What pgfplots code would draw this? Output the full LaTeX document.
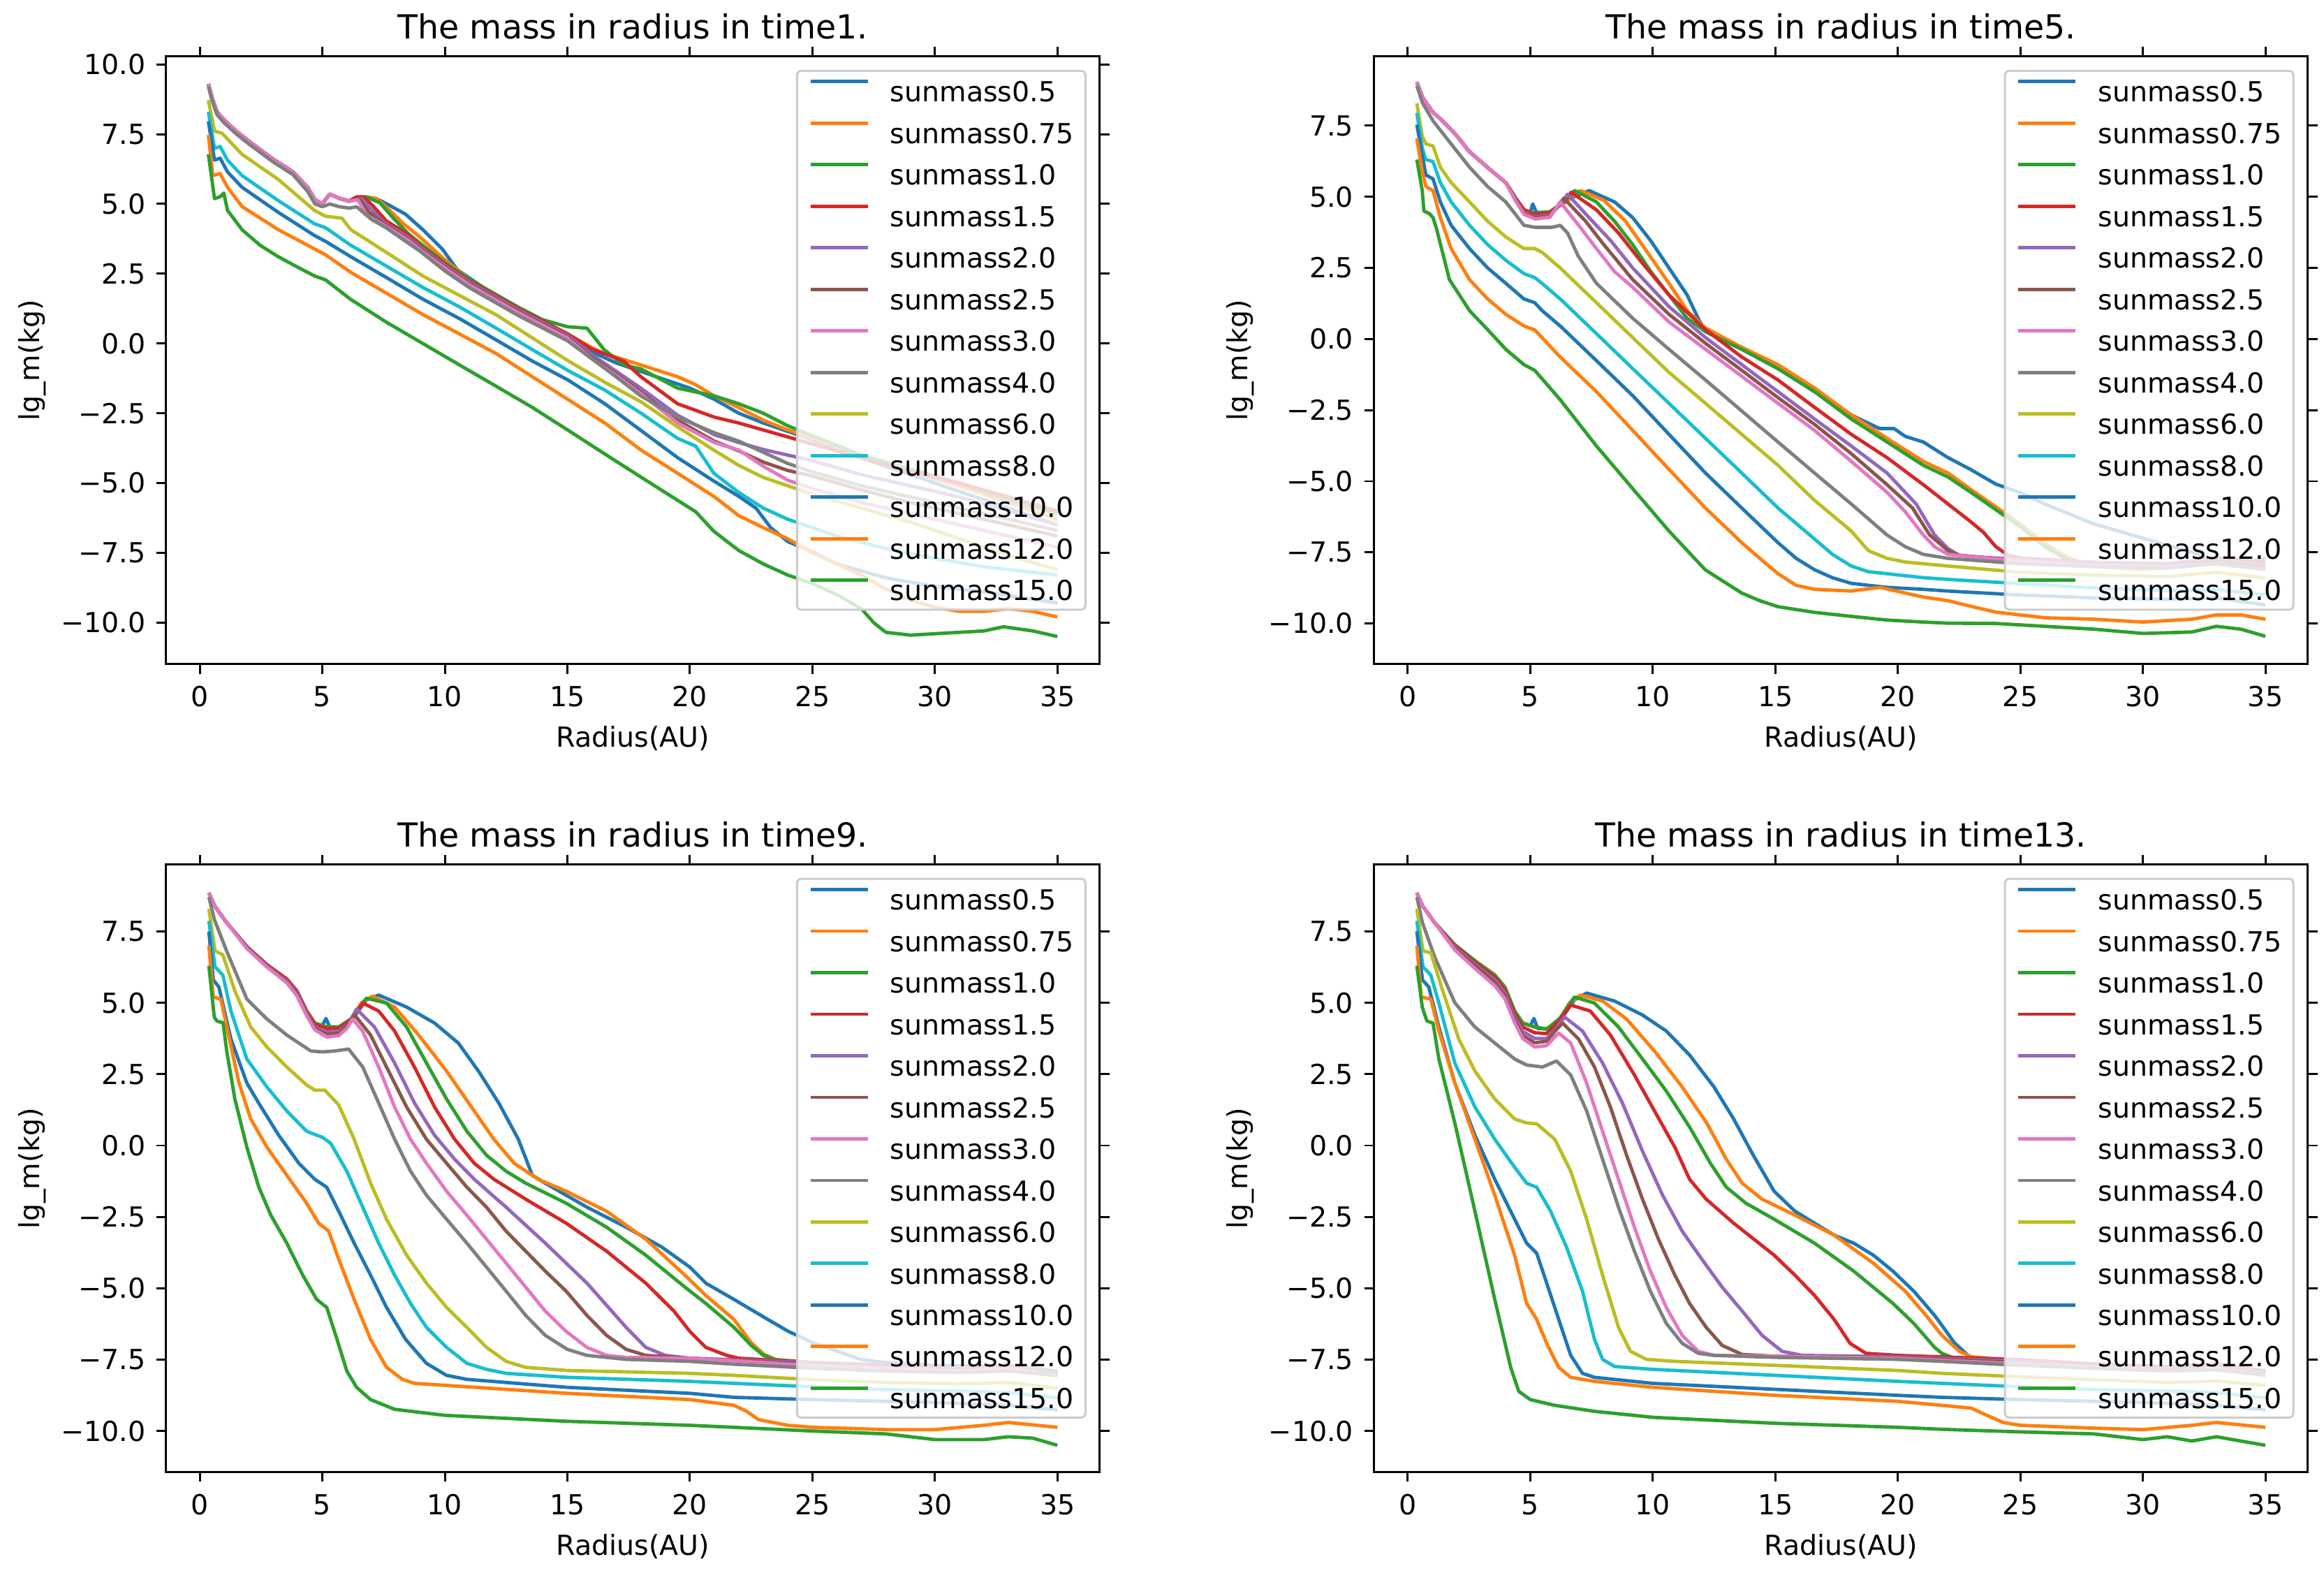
\documentclass[border=0pt]{standalone}
\usepackage{fontspec}
\setmainfont{DejaVu Sans}
\usepackage{pgfplots}
\pgfplotsset{compat=1.18}
\definecolor{c0}{HTML}{1F77B4}
\definecolor{c1}{HTML}{FF7F0E}
\definecolor{c2}{HTML}{2CA02C}
\definecolor{c3}{HTML}{D62728}
\definecolor{c4}{HTML}{9467BD}
\definecolor{c5}{HTML}{8C564B}
\definecolor{c6}{HTML}{E377C2}
\definecolor{c7}{HTML}{7F7F7F}
\definecolor{c8}{HTML}{BCBD22}
\definecolor{c9}{HTML}{17BECF}
\pgfplotsset{
  panel/.style={
    scale only axis, width=126mm, height=82mm,
    xmin=-1.38, xmax=36.73,
    xtick={0,5,10,15,20,25,30,35},
    xticklabels={0,5,10,15,20,25,30,35},
    tick align=outside, major tick length=3.7pt,
    every tick/.style={black, line width=0.8pt},
    axis line style={line width=0.8pt},
    tick label style={font=\fontsize{10.6}{12}\selectfont},
    label style={font=\fontsize{10.6}{12}\selectfont},
    title style={font=\fontsize{12.7}{15}\selectfont, at={(0.5,1)}, anchor=center, yshift=1.9mm},
    xlabel={Radius(AU)}, ylabel={lg\_m(kg)},
    xlabel style={at={(0.5,0)}, anchor=center, yshift=-10mm},
    ylabel style={at={(-0.1429,0.5)}, anchor=center},
    xticklabel style={anchor=center, yshift=-3.1mm},
    yticklabel style={anchor=east, inner sep=0pt, xshift=-1.4mm},
    no markers,
    every axis plot/.append style={line width=1.3pt, line join=round},
    legend cell align=left,
    legend style={at={(0.9857,0.978)}, anchor=north east, draw=black!20, fill=white,
      fill opacity=0.8, text opacity=1, draw opacity=1, rounded corners=1.5pt, line width=0.8pt,
      font=\fontsize{10.6}{12}\selectfont, inner xsep=4.5pt, inner ysep=3.5pt,
      row sep=7.5pt, nodes={inner sep=0pt, text height=7.8pt, text depth=0pt}},
    legend image code/.code={\draw[##1, line width=1.3pt] (0pt,3.9pt) -- (22pt,3.9pt); \path (30pt,3.9pt);},
  },
  ticksA/.style={ytick={-10,-7.5,-5,-2.5,0,2.5,5,7.5,10},
    yticklabels={−10.0,−7.5,−5.0,−2.5,0.0,2.5,5.0,7.5,10.0}},
  ticksB/.style={ytick={-10,-7.5,-5,-2.5,0,2.5,5,7.5},
    yticklabels={−10.0,−7.5,−5.0,−2.5,0.0,2.5,5.0,7.5}},
}
\newcommand{\leg}{\legend{sunmass0.5,sunmass0.75,sunmass1.0,sunmass1.5,sunmass2.0,sunmass2.5,sunmass3.0,sunmass4.0,sunmass6.0,sunmass8.0,sunmass10.0,sunmass12.0,sunmass15.0}}
\begin{document}
\begin{tikzpicture}
\useasboundingbox (0,0) rectangle (313.6mm,212.2mm);
% ---------------- Panel 1: time1 ----------------
\begin{axis}[panel, ticksA, at={(22.4mm,122.6mm)}, anchor=south west,
  ymin=-11.49, ymax=10.29, title={The mass in radius in time1.}]
\addplot[c0] coordinates {(0.35,9.3) (0.5,8.8) (0.7,8.3) (1,8.0) (1.5,7.6) (2,7.25) (3,6.6) (3.8,6.15) (4.4,5.6) (4.7,5.15) (5,5.0) (5.3,5.35) (5.7,5.2) (6.1,5.1) (6.4,5.25) (6.8,5.25) (7.3,5.15) (7.7,4.97) (8.4,4.63) (9.1,4.08) (9.9,3.38) (10.5,2.65) (11,2.35) (12,1.75) (13,1.25) (14,0.75) (15,0.3) (16,-0.3) (17,-0.7) (18,-1.0) (19,-1.3) (20,-1.6) (21,-2.0) (22,-2.5) (23,-2.85) (24,-3.15) (25,-3.45) (27,-4.1) (29,-4.7) (31,-5.3) (33,-5.9) (35,-6.5)};
\addplot[c1] coordinates {(0.35,9.3) (0.5,8.8) (0.7,8.3) (1,8.0) (1.5,7.6) (2,7.25) (3,6.6) (3.8,6.15) (4.4,5.6) (4.7,5.15) (5,5.0) (5.3,5.35) (5.7,5.2) (6.1,5.1) (6.4,5.25) (6.8,5.25) (7.2,5.2) (7.6,4.9) (8.3,4.3) (9,3.8) (10,3.0) (11,2.3) (12,1.75) (13,1.25) (14,0.8) (15,0.35) (16,-0.15) (16.5,-0.35) (18,-0.77) (19.5,-1.19) (20.2,-1.46) (21,-1.88) (22,-2.3) (23,-2.75) (24,-3.1) (25,-3.4) (27,-4.0) (29,-4.6) (31,-5.1) (33,-5.7) (35,-6.3)};
\addplot[c2] coordinates {(0.35,9.3) (0.5,8.8) (0.7,8.3) (1,8.0) (1.5,7.6) (2,7.25) (3,6.6) (3.8,6.15) (4.4,5.6) (4.7,5.15) (5,5.0) (5.3,5.35) (5.7,5.2) (6.1,5.1) (6.4,5.25) (6.8,5.25) (7.35,5.04) (7.9,4.49) (8.5,3.94) (9.1,3.52) (10,2.9) (11,2.3) (12,1.8) (13,1.3) (14,0.85) (15,0.6) (15.8,0.55) (16.5,-0.22) (17.3,-0.77) (18,-0.91) (19.5,-1.6) (21,-1.88) (22,-2.16) (23,-2.5) (24,-2.95) (25,-3.3) (27,-4.0) (29,-4.5) (31,-5.0) (33,-5.6) (35,-6.1)};
\addplot[c3] coordinates {(0.35,9.3) (0.5,8.8) (0.7,8.3) (1,8.0) (1.5,7.6) (2,7.25) (3,6.6) (3.8,6.15) (4.4,5.6) (4.7,5.15) (5,5.0) (5.3,5.35) (5.7,5.2) (6.1,5.1) (6.4,5.25) (6.7,5.25) (7.1,4.9) (7.6,4.4) (8.5,3.9) (9,3.5) (10,2.85) (11,2.25) (12,1.75) (13,1.25) (14,0.8) (15,0.35) (16,-0.2) (17.3,-0.63) (18,-1.19) (19.5,-2.16) (21,-2.64) (22,-2.85) (23,-3.1) (24,-3.35) (25,-3.6) (27,-4.1) (29,-4.6) (31,-5.0) (33,-5.5) (35,-6.0)};
\addplot[c4] coordinates {(0.35,9.3) (0.5,8.8) (0.7,8.3) (1,8.0) (1.5,7.6) (2,7.25) (3,6.6) (3.8,6.15) (4.4,5.6) (4.7,5.15) (5,5.0) (5.3,5.35) (5.7,5.2) (6.1,5.1) (6.6,5.2) (7.0,4.8) (7.5,4.35) (8.5,3.8) (9,3.45) (10,2.8) (11,2.2) (12,1.7) (13,1.2) (14,0.75) (15,0.3) (16,-0.4) (17,-1.0) (18,-1.6) (19.5,-2.57) (21,-3.27) (22,-3.55) (23,-3.8) (24,-4.0) (25,-4.2) (27,-4.7) (29,-5.1) (31,-5.5) (33,-6.0) (35,-6.5)};
\addplot[c5] coordinates {(0.35,9.3) (0.5,8.8) (0.7,8.3) (1,8.0) (1.5,7.6) (2,7.25) (3,6.6) (3.8,6.15) (4.4,5.6) (4.7,5.15) (5,5.0) (5.3,5.35) (5.7,5.2) (6.1,5.1) (6.5,5.2) (6.9,4.7) (7.5,4.3) (8.5,3.75) (9,3.4) (10,2.75) (11,2.15) (12,1.65) (13,1.15) (14,0.7) (15,0.25) (16,-0.5) (17,-1.1) (18,-1.74) (19.5,-2.75) (21,-3.5) (22,-3.85) (23,-4.25) (24,-4.55) (25,-4.75) (27,-5.25) (29,-5.7) (31,-6.1) (33,-6.5) (35,-6.9)};
\addplot[c6] coordinates {(0.35,9.3) (0.5,8.8) (0.7,8.3) (1,8.0) (1.5,7.6) (2,7.25) (3,6.6) (3.8,6.15) (4.4,5.6) (4.7,5.15) (5,5.0) (5.3,5.35) (5.7,5.2) (6.1,5.1) (6.45,5.15) (6.8,4.6) (7.5,4.25) (8.5,3.7) (9,3.35) (10,2.7) (11,2.1) (12,1.6) (13,1.1) (14,0.65) (15,0.2) (16,-0.55) (17,-1.15) (18,-1.8) (19.5,-2.85) (21,-3.55) (22,-3.82) (23,-4.4) (24,-4.9) (25,-5.2) (27,-5.7) (29,-6.1) (31,-6.5) (33,-6.9) (35,-7.3)};
\addplot[c7] coordinates {(0.35,9.2) (0.5,8.7) (0.7,8.2) (1,7.9) (1.5,7.5) (2,7.15) (3,6.5) (3.8,6.05) (4.4,5.45) (4.7,5.0) (5,4.9) (5.3,5.0) (5.7,4.9) (6.1,4.85) (6.4,4.9) (7,4.45) (7.6,4.15) (8.5,3.6) (9,3.3) (10,2.6) (11,2.0) (12,1.5) (13,1.0) (14,0.55) (15,0.1) (16,-0.55) (17,-1.2) (18,-1.88) (19.5,-2.64) (21,-3.2) (22,-3.5) (23,-3.9) (24,-4.3) (25,-4.6) (27,-5.1) (29,-5.5) (31,-5.9) (33,-6.3) (35,-6.7)};
\addplot[c8] coordinates {(0.35,8.72) (0.6,7.61) (0.9,7.54) (1.72,6.78) (3.2,5.88) (4.68,4.77) (5.13,4.56) (5.8,4.49) (6.16,4.08) (7.64,3.25) (9.12,2.41) (10.6,1.72) (12.09,1.03) (13.57,0.2) (15.05,-0.63) (16.53,-1.39) (18.01,-2.09) (19.5,-2.99) (20.98,-3.82) (22,-4.37) (23,-4.8) (24,-5.1) (25,-5.4) (27,-5.9) (29,-6.4) (31,-7.0) (33,-7.6) (35,-8.1)};
\addplot[c9] coordinates {(0.35,8.3) (0.6,6.99) (0.83,7.06) (1.13,6.57) (1.72,6.02) (3.2,5.12) (4.68,4.29) (5.13,4.15) (6.16,3.52) (7.64,2.76) (9.12,2.0) (10.6,1.31) (12.09,0.55) (13.57,-0.22) (15.05,-0.98) (16.53,-1.67) (18.01,-2.5) (19.5,-3.4) (20.24,-3.68) (20.98,-4.65) (22,-5.34) (23,-5.9) (24,-6.3) (25,-6.6) (26,-6.9) (28,-7.35) (30,-7.7) (32,-8.0) (35,-8.3)};
\addplot[c0] coordinates {(0.35,7.96) (0.6,6.57) (0.83,6.64) (1.13,6.15) (1.72,5.6) (3.2,4.7) (4.68,3.87) (5.13,3.66) (6.16,3.11) (7.64,2.35) (9.12,1.58) (10.6,0.89) (12.09,0.13) (13.57,-0.63) (15.05,-1.32) (16.53,-2.16) (18.01,-3.12) (19.5,-4.09) (20.98,-4.93) (22,-5.48) (22.7,-5.9) (23.3,-6.6) (24,-7.1) (25,-7.46) (26,-7.9) (28,-8.4) (30,-8.7) (32,-8.9) (35,-9.3)};
\addplot[c1] coordinates {(0.35,7.47) (0.53,6.02) (0.83,6.09) (1.13,5.6) (1.72,4.91) (3.2,4.08) (4.68,3.39) (5.13,3.18) (6.16,2.55) (7.64,1.79) (9.12,1.03) (10.6,0.34) (12.09,-0.36) (13.57,-1.19) (15.05,-2.02) (16.53,-2.85) (18.01,-3.82) (19.5,-4.65) (20.98,-5.48) (22,-6.17) (23,-6.6) (24,-7.0) (25,-7.5) (26,-7.9) (27,-8.3) (28,-8.8) (29,-9.2) (30,-9.45) (31,-9.6) (32,-9.6) (33,-9.5) (34,-9.6) (35,-9.8)};
\addplot[c2] coordinates {(0.35,6.78) (0.6,5.19) (0.83,5.26) (0.98,5.39) (1.13,4.77) (1.72,4.08) (2.46,3.52) (3.2,3.11) (3.94,2.76) (4.68,2.42) (5.13,2.28) (6.16,1.58) (7.64,0.75) (9.12,-0.01) (10.6,-0.77) (12.09,-1.53) (13.57,-2.29) (15.05,-3.12) (16.53,-3.96) (18.01,-4.79) (19.5,-5.62) (20.24,-6.03) (20.98,-6.73) (22,-7.42) (23,-7.9) (24,-8.3) (25,-8.6) (26,-9.0) (27,-9.5) (27.5,-10.0) (28,-10.35) (29,-10.45) (30,-10.4) (31,-10.35) (32,-10.3) (32.8,-10.15) (34,-10.3) (35,-10.5)};
\leg
\end{axis}
% ---------------- Panel 2: time5 ----------------
\begin{axis}[panel, ticksB, at={(185.4mm,122.6mm)}, anchor=south west,
  ymin=-11.43, ymax=9.94, title={The mass in radius in time5.}]
\addplot[c0] coordinates {(0.37,9.03) (0.6,8.5) (1,8.0) (1.5,7.6) (2,7.15) (2.5,6.6) (3.3,6.0) (4,5.5) (4.4,4.95) (4.75,4.54) (5.0,4.45) (5.1,4.75) (5.25,4.45) (5.8,4.47) (6.5,4.9) (7.4,5.22) (8.44,4.82) (9.18,4.27) (9.92,3.45) (10.66,2.5) (11.4,1.55) (11.85,0.73) (12.15,0.26) (13.63,-0.36) (15.11,-1.04) (16.6,-1.85) (18.1,-2.67) (19.26,-3.15) (19.85,-3.15) (20.3,-3.42) (21.04,-3.62) (22.05,-4.17) (23,-4.6) (24,-5.1) (25,-5.4) (26,-5.8) (28,-6.5) (30,-7.0) (32,-7.5) (33,-7.8) (34,-7.9) (35,-7.7)};
\addplot[c1] coordinates {(0.37,9.03) (0.6,8.5) (1,8.0) (1.5,7.6) (2,7.15) (2.5,6.6) (3.3,6.0) (4,5.5) (4.4,4.95) (4.75,4.54) (5.2,4.41) (5.8,4.47) (6.5,4.85) (7.04,5.22) (8.0,4.88) (8.89,4.14) (9.78,3.05) (10.66,1.96) (11.4,1.0) (12.15,0.39) (13.63,-0.29) (15.11,-0.9) (16.6,-1.72) (18.1,-2.67) (19.56,-3.49) (21.04,-4.3) (22.05,-4.71) (23,-5.3) (24,-5.9) (25,-6.5) (26,-7.2) (27,-7.7) (28,-8.0) (30,-8.1) (33,-7.9) (35,-8.1)};
\addplot[c2] coordinates {(0.37,9.03) (0.6,8.5) (1,8.0) (1.5,7.6) (2,7.15) (2.5,6.6) (3.3,6.0) (4,5.5) (4.4,4.95) (4.75,4.54) (5.2,4.41) (5.8,4.47) (6.4,4.85) (6.81,5.22) (7.7,4.82) (8.44,4.14) (9.18,3.32) (9.92,2.37) (10.66,1.55) (11.4,0.73) (12.15,0.26) (13.63,-0.36) (15.11,-1.04) (16.6,-1.85) (18.1,-2.81) (19.56,-3.62) (21.04,-4.44) (22.05,-4.85) (23,-5.4) (24,-6.0) (25,-6.6) (26,-7.3) (27,-7.8) (28,-7.95) (31,-8.0) (33,-7.85) (35,-8.0)};
\addplot[c3] coordinates {(0.37,9.03) (0.6,8.5) (1,8.0) (1.5,7.6) (2,7.15) (2.5,6.6) (3.3,6.0) (4,5.5) (4.4,4.95) (4.75,4.54) (5.2,4.38) (5.8,4.44) (6.35,4.8) (6.67,5.16) (7.7,4.54) (8.6,3.73) (9.48,2.77) (10.66,1.55) (12.15,0.33) (13.63,-0.63) (15.11,-1.44) (16.6,-2.4) (18.1,-3.35) (19.56,-4.17) (21.04,-5.12) (22.05,-5.8) (23,-6.44) (23.5,-6.8) (24,-7.3) (24.5,-7.6) (25,-7.7) (28,-7.85) (31,-7.9) (33,-7.7) (35,-7.85)};
\addplot[c4] coordinates {(0.37,9.03) (0.6,8.5) (1,8.0) (1.5,7.6) (2,7.15) (2.5,6.6) (3.3,6.0) (4,5.5) (4.4,4.9) (4.75,4.45) (5.2,4.3) (5.8,4.35) (6.25,4.75) (6.52,5.09) (7.4,4.27) (8.29,3.45) (9.18,2.5) (10.66,1.14) (12.15,0.05) (13.63,-0.9) (15.11,-1.85) (16.6,-2.81) (18.1,-3.76) (19.56,-4.71) (20.75,-5.8) (21.5,-6.89) (22.05,-7.37) (22.5,-7.6) (23,-7.65) (25,-7.75) (28,-7.85) (31,-7.9) (33,-7.75) (35,-7.95)};
\addplot[c5] coordinates {(0.37,9.03) (0.6,8.5) (1,8.0) (1.5,7.6) (2,7.15) (2.5,6.6) (3.3,6.0) (4,5.5) (4.4,4.9) (4.75,4.42) (5.2,4.27) (5.8,4.32) (6.15,4.7) (6.37,4.95) (7.26,4.14) (8.0,3.32) (9.18,2.09) (10.66,0.87) (12.15,-0.15) (13.63,-1.1) (15.11,-2.06) (16.6,-3.0) (18.1,-4.03) (19.56,-5.12) (20.6,-5.94) (21.3,-6.89) (22.05,-7.44) (22.5,-7.6) (25,-7.8) (28,-7.9) (31,-7.95) (33,-7.8) (35,-8.0)};
\addplot[c6] coordinates {(0.37,9.03) (0.6,8.5) (1,8.0) (1.5,7.6) (2,7.15) (2.5,6.6) (3.3,6.0) (4,5.5) (4.4,4.85) (4.75,4.38) (5.2,4.22) (5.8,4.28) (6.22,4.82) (7.1,3.86) (7.7,3.18) (8.44,2.37) (9.18,1.82) (10.66,0.6) (12.15,-0.36) (13.63,-1.31) (15.11,-2.26) (16.6,-3.21) (18.1,-4.3) (19.56,-5.39) (20.3,-6.07) (21.04,-6.89) (21.5,-7.3) (22.05,-7.57) (23,-7.65) (25,-7.8) (28,-7.95) (31,-8.0) (33,-7.9) (35,-8.1)};
\addplot[c7] coordinates {(0.37,8.9) (0.6,8.3) (1.03,7.67) (1.77,6.86) (2.52,6.04) (3.26,5.36) (4.0,4.82) (4.74,4.0) (5.18,3.93) (5.9,3.93) (6.22,4.0) (6.52,3.73) (6.96,2.91) (7.7,1.96) (9.18,0.73) (10.66,-0.36) (12.15,-1.44) (13.63,-2.53) (15.11,-3.62) (16.6,-4.71) (18.1,-5.8) (19.56,-6.89) (20.3,-7.3) (21.04,-7.57) (22.05,-7.71) (25,-7.9) (28,-8.0) (31,-8.05) (33,-7.9) (35,-8.1)};
\addplot[c8] coordinates {(0.37,8.29) (0.59,7.13) (0.74,6.86) (1.03,6.79) (1.33,6.04) (1.77,5.5) (2.52,4.82) (3.26,4.14) (4.0,3.59) (4.74,3.18) (5.18,3.18) (5.48,3.05) (6.22,2.5) (7.7,1.28) (9.18,0.05) (10.66,-1.17) (12.15,-2.26) (13.63,-3.35) (15.11,-4.44) (16.6,-5.67) (18.1,-6.75) (18.8,-7.44) (19.56,-7.71) (20.3,-7.84) (22.05,-7.98) (25,-8.2) (28,-8.3) (31,-8.35) (33,-8.2) (35,-8.4)};
\addplot[c9] coordinates {(0.37,7.95) (0.59,6.72) (0.74,6.31) (1.03,6.24) (1.33,5.5) (1.77,4.82) (2.52,4.0) (3.26,3.32) (4.0,2.77) (4.74,2.3) (5.18,2.16) (5.48,1.96) (6.22,1.41) (7.7,0.19) (9.18,-1.04) (10.66,-2.26) (12.15,-3.49) (13.63,-4.71) (15.11,-5.94) (16.6,-7.03) (17.33,-7.57) (18.1,-7.98) (18.8,-8.18) (19.56,-8.25) (21.04,-8.39) (22.05,-8.45) (25,-8.6) (28,-8.75) (31,-8.85) (33,-8.8) (35,-9.0)};
\addplot[c0] coordinates {(0.37,7.54) (0.59,6.45) (0.74,5.77) (1.03,5.63) (1.33,4.82) (1.77,4.0) (2.52,3.18) (3.26,2.5) (4.0,1.96) (4.74,1.41) (5.18,1.28) (5.48,1.0) (6.22,0.46) (7.7,-0.76) (9.18,-1.99) (10.66,-3.35) (12.15,-4.71) (13.63,-5.94) (15.11,-7.16) (15.85,-7.71) (16.6,-8.11) (17.33,-8.39) (18.1,-8.59) (19.56,-8.73) (21.04,-8.8) (22.05,-8.86) (25,-9.0) (28,-9.1) (31,-9.15) (33,-9.1) (35,-9.35)};
\addplot[c1] coordinates {(0.37,7.06) (0.59,5.9) (0.74,5.36) (1.03,5.22) (1.33,4.27) (1.77,3.18) (2.52,2.09) (3.26,1.41) (4.0,0.87) (4.74,0.46) (5.18,0.32) (5.48,0.05) (6.22,-0.63) (7.7,-1.85) (9.18,-3.21) (10.66,-4.58) (12.15,-5.94) (13.63,-7.16) (14.37,-7.71) (15.11,-8.25) (15.85,-8.66) (16.6,-8.8) (18.1,-8.86) (19.26,-8.73) (20.3,-8.93) (21.04,-9.07) (22.05,-9.2) (23,-9.4) (24,-9.6) (25,-9.7) (26,-9.8) (28,-9.85) (30,-9.95) (32,-9.85) (33,-9.7) (34,-9.7) (35,-9.85)};
\addplot[c2] coordinates {(0.37,6.31) (0.59,5.22) (0.66,4.5) (0.88,4.41) (1.03,4.27) (1.18,3.86) (1.7,2.09) (2.52,1.0) (3.26,0.33) (4.0,-0.36) (4.74,-0.9) (5.18,-1.1) (6.22,-2.13) (7.7,-3.76) (9.18,-5.26) (10.66,-6.75) (12.15,-8.12) (13.63,-8.93) (14.37,-9.2) (15.11,-9.41) (16.6,-9.61) (18.1,-9.75) (19.56,-9.88) (21.04,-9.95) (22.05,-9.99) (24,-10.0) (26,-10.1) (28,-10.2) (30,-10.35) (32,-10.3) (33,-10.1) (34,-10.2) (35,-10.45)};
\leg
\end{axis}
% ---------------- Panel 3: time9 ----------------
\begin{axis}[panel, ticksB, at={(22.4mm,13.6mm)}, anchor=south west,
  ymin=-11.44, ymax=9.85, title={The mass in radius in time9.}]
\addplot[c0] coordinates {(0.37,8.85) (0.6,8.4) (1.1,7.8) (1.92,6.96) (2.74,6.33) (3.55,5.83) (3.96,5.41) (4.36,4.71) (4.69,4.29) (5.0,4.2) (5.15,4.45) (5.3,4.15) (5.67,4.15) (6.2,4.4) (6.8,5.1) (7.3,5.27) (8.44,4.85) (9.58,4.29) (10.55,3.59) (11.37,2.61) (12.2,1.49) (13.0,0.22) (13.57,-1.04) (14.1,-1.32) (15.8,-2.16) (17.4,-2.86) (18.86,-3.56) (20,-4.26) (20.65,-4.82) (21.8,-5.39) (23,-6.0) (24,-6.5) (25,-6.9) (26,-7.2) (27,-7.5) (28,-7.6) (30,-7.7) (33,-7.75) (35,-7.9)};
\addplot[c1] coordinates {(0.37,8.85) (0.6,8.4) (1.1,7.8) (1.92,6.96) (2.74,6.33) (3.55,5.83) (3.96,5.41) (4.36,4.71) (4.69,4.29) (5.18,4.15) (5.67,4.15) (6.2,4.45) (6.6,5.0) (7.05,5.23) (7.95,4.85) (8.93,3.87) (10.07,2.61) (11.2,1.21) (12.0,0.22) (12.83,-0.62) (13.8,-1.18) (14.95,-1.6) (16.6,-2.3) (18.2,-3.28) (19.8,-4.54) (20.65,-5.25) (21.8,-6.09) (22.5,-6.9) (23,-7.3) (23.5,-7.5) (25,-7.6) (28,-7.7) (31,-7.8) (33,-7.7) (35,-7.9)};
\addplot[c2] coordinates {(0.37,8.85) (0.6,8.4) (1.1,7.8) (1.92,6.96) (2.74,6.33) (3.55,5.83) (3.96,5.41) (4.36,4.71) (4.69,4.29) (5.18,4.15) (5.67,4.15) (6.2,4.45) (6.8,5.16) (7.62,4.99) (8.44,4.15) (9.25,2.89) (10.07,1.63) (10.9,0.5) (11.7,-0.34) (12.5,-0.9) (13.3,-1.32) (14.95,-2.02) (16.6,-2.86) (18.2,-3.84) (19.8,-4.96) (20.65,-5.53) (21.8,-6.37) (22.5,-7.0) (23,-7.35) (23.5,-7.5) (25,-7.6) (28,-7.7) (31,-7.8) (33,-7.7) (35,-7.9)};
\addplot[c3] coordinates {(0.37,8.85) (0.6,8.4) (1.1,7.8) (1.92,6.96) (2.74,6.33) (3.55,5.83) (3.96,5.41) (4.36,4.71) (4.69,4.25) (5.18,4.1) (5.67,4.1) (6.15,4.4) (6.65,4.99) (7.3,4.71) (7.95,4.01) (8.76,2.75) (9.58,1.35) (10.4,0.22) (11.2,-0.62) (12.0,-1.18) (13.3,-1.88) (14.95,-2.72) (16.6,-3.7) (18.2,-4.82) (19.35,-5.8) (20,-6.51) (20.65,-7.07) (21.5,-7.35) (22,-7.45) (25,-7.6) (28,-7.7) (31,-7.8) (33,-7.7) (35,-7.95)};
\addplot[c4] coordinates {(0.37,8.85) (0.6,8.4) (1.1,7.8) (1.92,6.96) (2.74,6.3) (3.55,5.78) (3.96,5.35) (4.36,4.65) (4.69,4.15) (5.18,3.98) (5.67,4.0) (6.05,4.25) (6.4,4.78) (7.13,4.15) (7.95,2.89) (8.76,1.49) (9.58,0.36) (10.4,-0.48) (11.2,-1.18) (12.5,-2.16) (14.1,-3.42) (15.8,-4.82) (17.4,-6.37) (18.2,-7.07) (19.0,-7.35) (20,-7.45) (25,-7.6) (28,-7.75) (31,-7.8) (33,-7.7) (35,-7.95)};
\addplot[c5] coordinates {(0.37,8.85) (0.6,8.4) (1.1,7.8) (1.92,6.96) (2.74,6.28) (3.55,5.75) (3.96,5.3) (4.36,4.6) (4.69,4.1) (5.18,3.9) (5.67,3.92) (6.0,4.2) (6.32,4.57) (6.97,3.87) (7.62,2.75) (8.44,1.35) (9.25,0.22) (10.07,-0.62) (10.9,-1.46) (11.7,-2.16) (12.5,-3.0) (14.1,-4.4) (14.95,-5.1) (15.8,-5.95) (16.6,-6.65) (17.4,-7.14) (18.2,-7.35) (20,-7.45) (25,-7.65) (28,-7.75) (31,-7.85) (33,-7.75) (35,-8.0)};
\addplot[c6] coordinates {(0.37,8.85) (0.6,8.4) (1.1,7.8) (1.92,6.9) (2.74,6.25) (3.55,5.7) (3.96,5.25) (4.36,4.55) (4.69,4.05) (5.18,3.8) (5.67,3.85) (6.0,4.1) (6.24,4.43) (6.65,4.0) (7.3,2.75) (7.95,1.35) (8.6,0.22) (9.25,-0.62) (10.07,-1.6) (10.9,-2.44) (11.7,-3.28) (12.5,-4.12) (13.3,-4.96) (14.1,-5.8) (14.95,-6.51) (15.8,-7.07) (16.6,-7.35) (17.4,-7.42) (20,-7.45) (25,-7.7) (28,-7.8) (31,-7.9) (33,-7.8) (35,-8.05)};
\addplot[c7] coordinates {(0.37,8.7) (0.6,7.9) (1.1,6.8) (1.92,5.13) (2.74,4.43) (3.55,3.87) (4.53,3.31) (5.0,3.28) (5.5,3.31) (6.07,3.38) (6.65,2.75) (7.3,1.49) (7.95,0.22) (8.6,-0.9) (9.25,-1.74) (10.07,-2.58) (10.9,-3.42) (11.7,-4.26) (12.5,-5.1) (13.3,-5.95) (14.1,-6.65) (15,-7.14) (15.8,-7.35) (17.4,-7.49) (20,-7.56) (21.8,-7.66) (25,-7.8) (28,-7.9) (31,-7.95) (33,-7.9) (35,-8.06)};
\addplot[c8] coordinates {(0.37,8.29) (0.62,6.82) (0.94,6.68) (1.43,5.41) (2.08,4.15) (2.74,3.45) (3.55,2.75) (4.36,2.12) (4.69,1.94) (5.1,1.94) (5.67,1.42) (6.3,0.22) (6.97,-1.32) (7.62,-2.58) (8.44,-3.84) (9.25,-4.82) (10.07,-5.67) (10.9,-6.37) (11.7,-7.07) (12.5,-7.56) (13.3,-7.77) (15,-7.88) (20,-7.98) (21.8,-8.05) (25,-8.2) (28,-8.3) (31,-8.35) (33,-8.3) (35,-8.5)};
\addplot[c9] coordinates {(0.37,7.87) (0.62,6.26) (0.94,5.97) (1.27,4.71) (1.92,3.03) (2.74,2.05) (3.55,1.21) (4.36,0.5) (5.0,0.29) (5.34,0.08) (6.0,-0.9) (6.65,-2.16) (7.3,-3.42) (7.95,-4.54) (8.6,-5.53) (9.25,-6.37) (10.07,-7.07) (10.9,-7.63) (11.7,-7.84) (12.5,-7.98) (15,-8.12) (20,-8.26) (21.8,-8.33) (25,-8.45) (28,-8.55) (31,-8.6) (33,-8.65) (35,-8.84)};
\addplot[c0] coordinates {(0.37,7.5) (0.55,5.8) (0.78,5.55) (1.27,3.73) (1.92,2.19) (2.4,1.49) (3.22,0.36) (4.04,-0.62) (4.69,-1.18) (5.18,-1.46) (5.67,-2.3) (6.3,-3.42) (6.97,-4.54) (7.62,-5.67) (8.4,-6.79) (9.25,-7.63) (10.07,-8.05) (10.9,-8.19) (15,-8.47) (20,-8.68) (21.8,-8.82) (25,-8.9) (30,-9.0) (33,-9.1) (35,-9.26)};
\addplot[c1] coordinates {(0.37,7.0) (0.55,5.2) (0.86,5.13) (1.1,4.15) (1.6,2.19) (2.08,0.93) (2.74,-0.06) (3.55,-1.04) (4.36,-2.02) (4.85,-2.72) (5.26,-3.0) (5.67,-3.98) (6.3,-5.39) (6.97,-6.79) (7.62,-7.77) (8.27,-8.19) (8.76,-8.33) (10,-8.4) (15,-8.68) (20,-8.9) (21.8,-9.1) (22.3,-9.3) (22.8,-9.6) (24,-9.8) (25,-9.87) (28,-9.95) (30,-9.95) (32,-9.8) (33,-9.7) (35,-9.87)};
\addplot[c2] coordinates {(0.37,6.3) (0.59,4.5) (0.7,4.36) (0.95,4.3) (1.1,3.3) (1.43,1.63) (1.92,-0.06) (2.41,-1.46) (2.9,-2.44) (3.55,-3.42) (4.2,-4.54) (4.77,-5.39) (5.18,-5.67) (5.6,-6.79) (6.0,-7.9) (6.4,-8.47) (6.97,-8.9) (7.95,-9.24) (10,-9.45) (15,-9.66) (20,-9.8) (21.8,-9.87) (25,-10.0) (28,-10.1) (30,-10.3) (32,-10.3) (33,-10.2) (34,-10.25) (35,-10.5)};
\leg
\end{axis}
% ---------------- Panel 4: time13 ----------------
\begin{axis}[panel, ticksB, at={(185.4mm,13.6mm)}, anchor=south west,
  ymin=-11.44, ymax=9.85, title={The mass in radius in time13.}]
\addplot[c0] coordinates {(0.37,8.85) (0.6,8.4) (1.1,7.8) (1.92,7.03) (2.74,6.47) (3.55,5.97) (3.96,5.55) (4.36,4.71) (4.69,4.29) (5.0,4.2) (5.15,4.45) (5.3,4.1) (5.67,4.08) (6.2,4.35) (6.8,5.1) (7.3,5.34) (8.44,5.06) (9.58,4.57) (10.55,4.01) (11.5,3.17) (12.5,2.05) (13.3,0.93) (14.1,-0.34) (14.95,-1.6) (15.8,-2.3) (16.6,-2.72) (17.4,-3.14) (18.2,-3.42) (19.0,-3.84) (19.8,-4.4) (20.65,-5.1) (21.5,-5.95) (21.8,-6.3) (22.3,-6.9) (23,-7.46) (24,-7.55) (25,-7.6) (28,-7.7) (31,-7.8) (33,-7.7) (35,-7.9)};
\addplot[c1] coordinates {(0.37,8.85) (0.6,8.4) (1.1,7.8) (1.92,7.03) (2.74,6.47) (3.55,5.97) (3.96,5.55) (4.36,4.71) (4.69,4.29) (5.18,4.15) (5.67,4.08) (6.2,4.4) (6.6,5.0) (7.05,5.27) (7.95,5.06) (8.93,4.43) (10.07,3.31) (11.2,2.05) (12.2,0.79) (13.0,-0.48) (13.65,-1.32) (14.46,-1.88) (15.8,-2.44) (17.4,-3.14) (19.0,-4.12) (20.3,-5.1) (21.15,-5.95) (21.8,-6.65) (22.5,-7.2) (23,-7.4) (25,-7.55) (28,-7.7) (31,-7.8) (33,-7.7) (35,-7.9)};
\addplot[c2] coordinates {(0.37,8.85) (0.6,8.4) (1.1,7.8) (1.92,7.03) (2.74,6.47) (3.55,5.97) (3.96,5.55) (4.36,4.71) (4.69,4.29) (5.18,4.15) (5.67,4.08) (6.2,4.45) (6.8,5.2) (7.62,4.99) (8.6,4.15) (9.58,3.03) (10.55,1.91) (11.5,0.65) (12.35,-0.62) (13.0,-1.46) (13.8,-2.02) (14.95,-2.58) (16.6,-3.42) (18.2,-4.4) (19.8,-5.53) (20.65,-6.23) (21.5,-7.07) (21.8,-7.28) (22.3,-7.45) (25,-7.55) (28,-7.7) (31,-7.8) (33,-7.7) (35,-7.9)};
\addplot[c3] coordinates {(0.37,8.85) (0.6,8.4) (1.1,7.8) (1.92,7.0) (2.74,6.42) (3.55,5.9) (3.96,5.45) (4.36,4.62) (4.69,4.15) (5.18,3.95) (5.67,3.92) (6.15,4.35) (6.65,4.92) (7.45,4.71) (8.27,3.87) (9.25,2.47) (10.07,1.21) (10.9,-0.06) (11.5,-1.18) (12.18,-1.88) (13.3,-2.72) (14.95,-3.84) (15.8,-4.54) (16.6,-5.25) (17.4,-6.09) (18.05,-6.93) (18.7,-7.28) (20,-7.35) (25,-7.5) (28,-7.65) (31,-7.75) (33,-7.65) (35,-7.9)};
\addplot[c4] coordinates {(0.37,8.85) (0.6,8.4) (1.1,7.8) (1.92,6.95) (2.74,6.35) (3.55,5.8) (3.96,5.35) (4.36,4.5) (4.69,4.0) (5.18,3.75) (5.67,3.75) (6.05,4.1) (6.4,4.5) (7.13,4.01) (7.95,2.89) (8.76,1.49) (9.58,-0.2) (10.4,-1.74) (11.2,-3.0) (12.0,-3.98) (12.83,-4.96) (13.65,-5.8) (14.46,-6.65) (15.28,-7.21) (16.1,-7.35) (20,-7.4) (25,-7.55) (28,-7.7) (31,-7.8) (33,-7.7) (35,-7.95)};
\addplot[c5] coordinates {(0.37,8.85) (0.6,8.4) (1.1,7.8) (1.92,6.9) (2.74,6.3) (3.55,5.72) (3.96,5.25) (4.36,4.4) (4.69,3.85) (5.18,3.6) (5.67,3.65) (6.0,4.0) (6.32,4.29) (6.97,3.73) (7.62,2.75) (8.27,1.35) (8.93,-0.34) (9.58,-1.88) (10.23,-3.28) (10.9,-4.54) (11.5,-5.53) (12.18,-6.37) (12.83,-7.0) (13.65,-7.32) (15,-7.38) (20,-7.42) (25,-7.6) (28,-7.7) (31,-7.85) (33,-7.75) (35,-8.0)};
\addplot[c6] coordinates {(0.37,8.85) (0.6,8.4) (1.1,7.8) (1.92,6.85) (2.74,6.2) (3.55,5.6) (3.96,5.15) (4.36,4.3) (4.69,3.75) (5.18,3.45) (5.67,3.5) (6.0,3.8) (6.16,3.94) (6.65,3.59) (7.3,2.19) (7.95,0.5) (8.6,-1.18) (9.25,-2.86) (9.9,-4.4) (10.55,-5.67) (11.2,-6.65) (11.86,-7.21) (12.5,-7.35) (15,-7.38) (20,-7.45) (25,-7.65) (28,-7.75) (31,-7.9) (33,-7.8) (35,-8.05)};
\addplot[c7] coordinates {(0.37,8.7) (0.6,7.8) (1.1,6.6) (1.92,5.0) (2.74,4.15) (3.55,3.59) (4.36,3.03) (4.85,2.82) (5.5,2.75) (6.07,2.96) (6.65,2.47) (7.3,1.21) (7.95,-0.48) (8.6,-2.16) (9.25,-3.7) (9.9,-5.1) (10.55,-6.23) (11.2,-6.93) (11.86,-7.28) (12.5,-7.35) (15,-7.42) (20,-7.49) (21.8,-7.56) (25,-7.7) (28,-7.8) (31,-7.9) (33,-7.85) (35,-8.05)};
\addplot[c8] coordinates {(0.37,8.29) (0.62,6.82) (0.94,6.75) (1.43,5.41) (2.08,3.73) (2.74,2.61) (3.55,1.63) (4.36,0.93) (4.85,0.79) (5.26,0.76) (6.0,0.22) (6.65,-0.9) (7.3,-2.58) (7.95,-4.54) (8.6,-6.37) (9.09,-7.21) (9.74,-7.49) (10.9,-7.56) (15,-7.7) (20,-7.88) (21.8,-7.98) (25,-8.1) (28,-8.2) (31,-8.3) (33,-8.25) (35,-8.4)};
\addplot[c9] coordinates {(0.37,7.87) (0.62,6.26) (0.94,5.97) (1.27,4.99) (1.92,2.89) (2.74,1.35) (3.55,0.22) (4.36,-0.76) (4.85,-1.32) (5.26,-1.46) (5.83,-2.3) (6.48,-3.56) (7.13,-5.1) (7.62,-6.79) (7.95,-7.49) (8.44,-7.74) (10,-7.84) (15,-8.05) (20,-8.26) (21.8,-8.33) (25,-8.45) (28,-8.55) (31,-8.6) (33,-8.65) (35,-8.84)};
\addplot[c0] coordinates {(0.37,7.5) (0.6,5.8) (0.86,5.55) (1.27,4.15) (1.92,2.19) (2.74,0.36) (3.55,-1.18) (4.36,-2.58) (4.85,-3.42) (5.26,-3.77) (5.67,-4.82) (6.16,-6.09) (6.65,-7.35) (7.13,-7.98) (7.62,-8.12) (10,-8.33) (15,-8.54) (20,-8.75) (21.8,-8.82) (25,-8.9) (30,-9.0) (33,-9.1) (35,-9.26)};
\addplot[c1] coordinates {(0.37,7.0) (0.55,5.2) (0.94,5.13) (1.27,4.01) (1.92,2.19) (2.74,0.22) (3.55,-1.74) (4.36,-3.84) (4.85,-5.53) (5.26,-6.09) (5.67,-6.93) (6.16,-7.77) (6.65,-8.12) (7.62,-8.26) (10,-8.47) (15,-8.75) (20,-8.96) (21.8,-9.1) (23,-9.2) (23.5,-9.4) (24.3,-9.7) (25,-9.8) (28,-9.9) (30,-9.95) (32,-9.8) (33,-9.7) (35,-9.87)};
\addplot[c2] coordinates {(0.37,6.3) (0.59,4.85) (0.78,4.36) (1.03,4.29) (1.27,3.03) (1.92,0.79) (2.74,-2.3) (3.55,-5.39) (4.2,-7.77) (4.53,-8.61) (5.0,-8.9) (6.0,-9.1) (7.62,-9.31) (10,-9.52) (15,-9.73) (20,-9.87) (21.8,-9.94) (25,-10.03) (28,-10.1) (30,-10.3) (31,-10.2) (32,-10.35) (33,-10.2) (35,-10.5)};
\leg
\end{axis}
\end{tikzpicture}
\end{document}
